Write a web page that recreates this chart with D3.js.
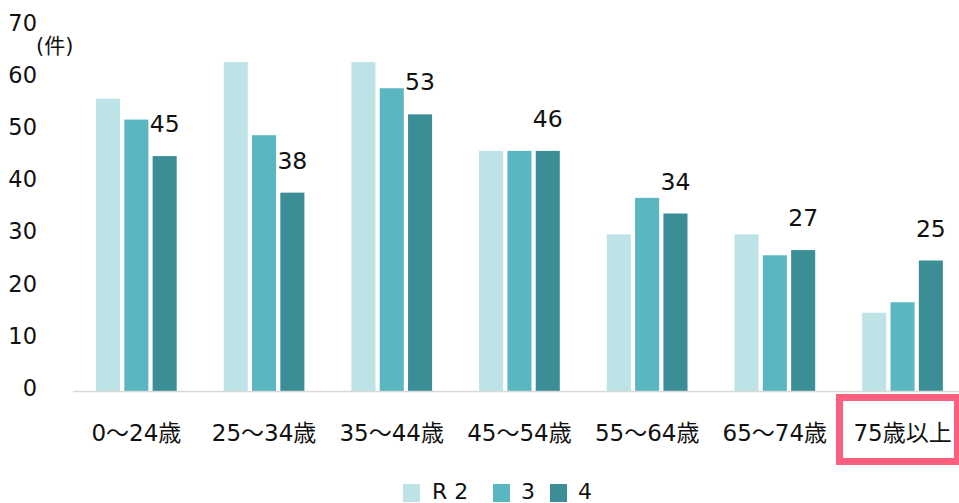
<!DOCTYPE html>
<html>
<head>
<meta charset="utf-8">
<script src="https://cdn.jsdelivr.net/npm/d3@7"></script>
<style>
  html, body { margin: 0; padding: 0; background: #fff; }
  svg { display: block; overflow: hidden; }
  text { font-family: "DejaVu Sans", "Noto Sans CJK JP", sans-serif; fill: #111; }
</style>
</head>
<body>
<svg id="chart" width="959" height="503"></svg>
<script>
const categories = ["0～24歳", "25～34歳", "35～44歳", "45～54歳", "55～64歳", "65～74歳", "75歳以上"];
const seriesNames = ["R 2", "3", "4"];
const valuesR2 = [56, 63, 63, 46, 30, 30, 15];
const values3  = [52, 49, 58, 46, 37, 26, 17];
const values4  = [45, 38, 53, 46, 34, 27, 25];
const yTicks = [0, 10, 20, 30, 40, 50, 60, 70];
const colors = ["#bde3e6", "#5ab6c0", "#3b8e96"];

const seriesValues = [valuesR2, values3, values4];
const svg = d3.select("#chart");

const y = d3.scaleLinear().domain([0, 70]).range([391, 25.6]);
const x0 = d3.scaleBand().domain(categories).range([72.5, 966.4]).padding(0);
const x1 = d3.scaleBand().domain(seriesNames).range([23.5, 104.2]).paddingInner(0.15).paddingOuter(0);

// Y tick labels
svg.append("g").selectAll("text").data(yTicks).join("text")
  .attr("x", 37).attr("y", d => y(d) - 3)
  .attr("text-anchor", "end").attr("dominant-baseline", "central")
  .attr("font-size", 22.5).text(d => d);

svg.append("text").attr("x", 36).attr("y", 46)
  .attr("dominant-baseline", "central").attr("font-size", 21).text("(件)");

// Bars
const groups = svg.append("g").selectAll("g").data(categories).join("g")
  .attr("transform", d => `translate(${x0(d)},0)`);
groups.selectAll("rect")
  .data((c, i) => seriesNames.map((s, j) => ({ s, j, v: seriesValues[j][i] })))
  .join("rect")
  .attr("x", d => x1(d.s)).attr("width", x1.bandwidth())
  .attr("y", d => y(d.v)).attr("height", d => y(0) - y(d.v))
  .attr("fill", d => colors[d.j]);

// Data labels for series "4"
groups.append("text")
  .attr("x", x1("4") + x1.bandwidth() / 2)
  .attr("y", (c, i) => y(values4[i]) - 32)
  .attr("text-anchor", "middle").attr("dominant-baseline", "central")
  .attr("font-size", 23.5).text((c, i) => values4[i]);

// Axis baseline
svg.append("line").attr("x1", 73).attr("x2", 959)
  .attr("y1", y(0) + 0.5).attr("y2", y(0) + 0.5)
  .attr("stroke", "#d9d9d9").attr("stroke-width", 1.5);

// X category labels
svg.append("g").selectAll("text").data(categories).join("text")
  .attr("x", d => x0(d) + x0.bandwidth() / 2).attr("y", 433)
  .attr("text-anchor", "middle").attr("dominant-baseline", "central")
  .attr("font-size", 23).text(d => d);

// Highlight box around the last category
svg.append("rect")
  .attr("x", 839.5).attr("y", 397.5).attr("width", 118).attr("height", 64)
  .attr("fill", "none").attr("stroke", "#fb5f7f").attr("stroke-width", 7);

// Legend
const legendX = [403, 493, 550];
const leg = svg.append("g").selectAll("g").data(seriesNames).join("g")
  .attr("transform", (d, i) => `translate(${legendX[i]},484)`);
leg.append("rect").attr("width", 17).attr("height", 18).attr("fill", (d, i) => colors[i]);
leg.append("text").attr("x", (d, i) => i === 0 ? 29 : 28).attr("y", 7.5)
  .attr("dominant-baseline", "central").attr("font-size", 22).text(d => d);
</script>
</body>
</html>
